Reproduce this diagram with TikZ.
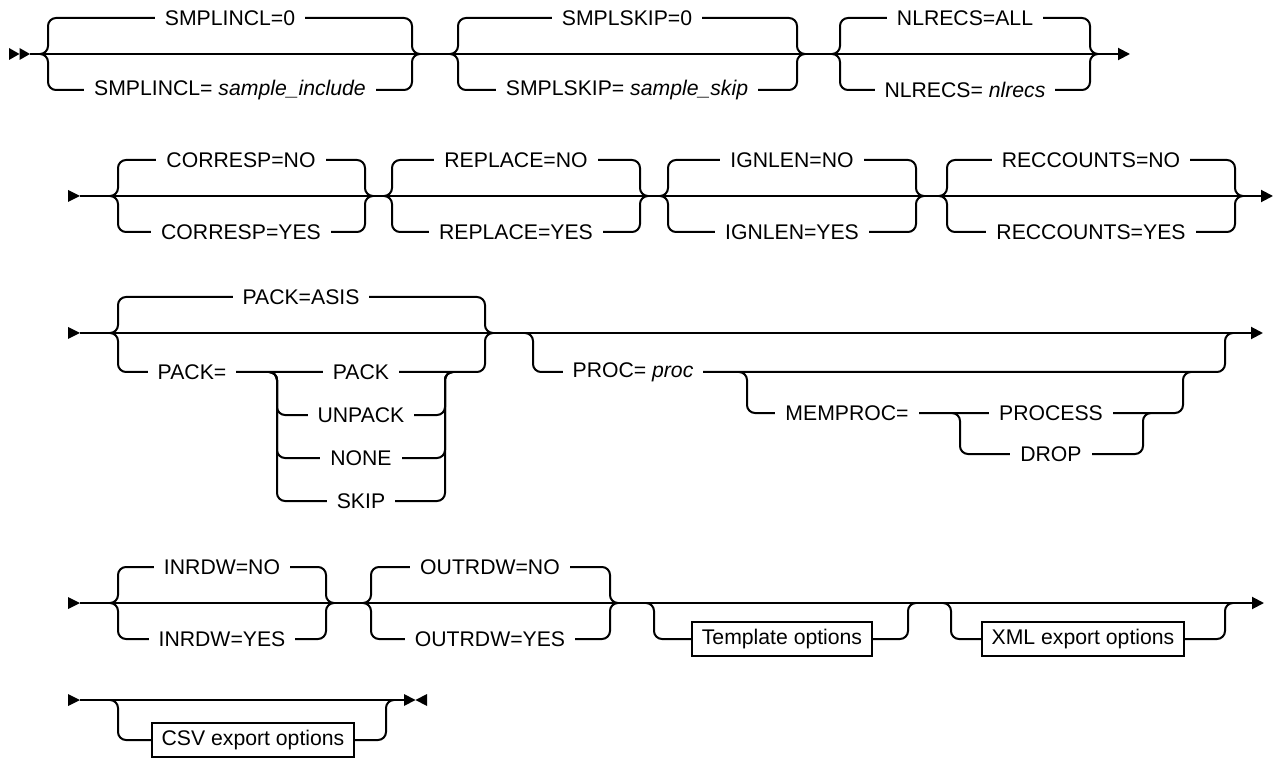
\documentclass[tikz,border=0pt]{standalone}
\usepackage{fontspec}
\setmainfont{Liberation Sans}
\usetikzlibrary{arrows.meta}

\begin{document}
\begin{tikzpicture}[x=0.5pt, y=-0.5pt, font=\fontsize{10.6pt}{12pt}\selectfont,
  rail/.style={line width=1pt, rounded corners=4pt},
  goon/.style={line width=1pt, -{Triangle[length=6pt, width=6pt]}},
  kw/.style={fill=white, inner xsep=5pt, inner ysep=1pt},
  ref/.style={draw, line width=1pt, fill=white, inner xsep=5pt, minimum height=16pt}]
\useasboundingbox (0,0) rectangle (1275,759);
% row 1
\coordinate (in1) at (30,54);
\coordinate (out1) at (1130,54);
\fill (9,48) -- (19.5,54) -- (9,60) -- cycle;
\fill (19.5,48) -- (30,54) -- (19.5,60) -- cycle;
\draw[goon] (in1) -- (out1);
\draw[rail] (40,54) -- (48,54) -- (48,18) -- (412,18) -- (412,54) -- (420,54);
\draw[rail] (40,54) -- (48,54) -- (48,90) -- (412,90) -- (412,54) -- (420,54);
\draw[rail] (450,54) -- (458,54) -- (458,18) -- (797,18) -- (797,54) -- (805,54);
\draw[rail] (450,54) -- (458,54) -- (458,90) -- (797,90) -- (797,54) -- (805,54);
\draw[rail] (832,54) -- (840,54) -- (840,18) -- (1090,18) -- (1090,54) -- (1098,54);
\draw[rail] (832,54) -- (840,54) -- (840,90) -- (1090,90) -- (1090,54) -- (1098,54);
\node[kw] (inclDef) at (230,18) {SMPLINCL=0};
\node[kw] (inclVal) at (230,90) {SMPLINCL= \textit{sample\_include}};
\node[kw] (skipDef) at (627,18) {SMPLSKIP=0};
\node[kw] (skipVal) at (627,90) {SMPLSKIP= \textit{sample\_skip}};
\node[kw] (nlrDef) at (965,18) {NLRECS=ALL};
\node[kw] (nlrVal) at (965,90) {NLRECS= \textit{nlrecs}};
% row 2
\coordinate (in2) at (80,196);
\coordinate (out2) at (1273,196);
\fill (68,190) -- (80,196) -- (68,202) -- cycle;
\draw[goon] (in2) -- (out2);
\draw[rail] (110,196) -- (118,196) -- (118,160) -- (365,160) -- (365,196) -- (373,196);
\draw[rail] (110,196) -- (118,196) -- (118,232) -- (365,232) -- (365,196) -- (373,196);
\draw[rail] (384,196) -- (392,196) -- (392,160) -- (640,160) -- (640,196) -- (648,196);
\draw[rail] (384,196) -- (392,196) -- (392,232) -- (640,232) -- (640,196) -- (648,196);
\draw[rail] (660,196) -- (668,196) -- (668,160) -- (916,160) -- (916,196) -- (924,196);
\draw[rail] (660,196) -- (668,196) -- (668,232) -- (916,232) -- (916,196) -- (924,196);
\draw[rail] (939,196) -- (947,196) -- (947,160) -- (1235,160) -- (1235,196) -- (1243,196);
\draw[rail] (939,196) -- (947,196) -- (947,232) -- (1235,232) -- (1235,196) -- (1243,196);
\node[kw] (corNo) at (241,160) {CORRESP=NO};
\node[kw] (corYes) at (241,232) {CORRESP=YES};
\node[kw] (repNo) at (516,160) {REPLACE=NO};
\node[kw] (repYes) at (516,232) {REPLACE=YES};
\node[kw] (ignNo) at (792,160) {IGNLEN=NO};
\node[kw] (ignYes) at (792,232) {IGNLEN=YES};
\node[kw] (recNo) at (1091,160) {RECCOUNTS=NO};
\node[kw] (recYes) at (1091,232) {RECCOUNTS=YES};
% row 3
\coordinate (in3) at (80,333);
\coordinate (out3) at (1263,333);
\fill (68,327) -- (80,333) -- (68,339) -- cycle;
\draw[goon] (in3) -- (out3);
\draw[rail] (110,333) -- (118,333) -- (118,297) -- (485,297) -- (485,333) -- (493,333);
\draw[rail] (110,333) -- (118,333) -- (118,372) -- (485,372) -- (485,333) -- (493,333);
\draw[rail] (269,372) -- (277,372) -- (277,415) -- (445,415) -- (445,372) -- (453,372);
\draw[rail] (269,372) -- (277,372) -- (277,458) -- (445,458) -- (445,372) -- (453,372);
\draw[rail] (269,372) -- (277,372) -- (277,501) -- (445,501) -- (445,372) -- (453,372);
\draw[rail] (525,333) -- (533,333) -- (533,372) -- (1225,372) -- (1225,333) -- (1233,333);
\draw[rail] (739,372) -- (747,372) -- (747,413) -- (1183,413) -- (1183,372) -- (1191,372);
\draw[rail] (952,413) -- (960,413) -- (960,454) -- (1143,454) -- (1143,413) -- (1151,413);
\node[kw] (packDef) at (301,297) {PACK=ASIS};
\node[kw] (packKey) at (192,372) {PACK=};
\node[kw] (packPack) at (361,372) {PACK};
\node[kw] (packUnp) at (361,415) {UNPACK};
\node[kw] (packNone) at (361,458) {NONE};
\node[kw] (packSkip) at (361,501) {SKIP};
\node[kw] (proc) at (633,372) {PROC= \textit{proc}};
\node[kw] (memKey) at (847,413) {MEMPROC=};
\node[kw] (memProc) at (1051,413) {PROCESS};
\node[kw] (memDrop) at (1051,454) {DROP};
% row 4
\coordinate (in4) at (80,603);
\coordinate (out4) at (1264,603);
\fill (68,597) -- (80,603) -- (68,609) -- cycle;
\draw[goon] (in4) -- (out4);
\draw[rail] (110,603) -- (118,603) -- (118,567) -- (326,567) -- (326,603) -- (334,603);
\draw[rail] (110,603) -- (118,603) -- (118,639) -- (326,639) -- (326,603) -- (334,603);
\draw[rail] (363,603) -- (371,603) -- (371,567) -- (610,567) -- (610,603) -- (618,603);
\draw[rail] (363,603) -- (371,603) -- (371,639) -- (610,639) -- (610,603) -- (618,603);
\draw[rail] (646,603) -- (654,603) -- (654,639) -- (908,639) -- (908,603) -- (916,603);
\draw[rail] (943,603) -- (951,603) -- (951,639) -- (1225,639) -- (1225,603) -- (1233,603);
\node[kw] (inNo) at (222,567) {INRDW=NO};
\node[kw] (inYes) at (222,639) {INRDW=YES};
\node[kw] (outNo) at (490,567) {OUTRDW=NO};
\node[kw] (outYes) at (490,639) {OUTRDW=YES};
\node[ref] (tmpl) at (782,639) {Template options};
\node[ref] (xml) at (1083,639) {XML export options};
% row 5
\coordinate (in5) at (80,700);
\coordinate (end5) at (404,700);
\fill (68,694) -- (80,700) -- (68,706) -- cycle;
\draw[line width=1pt] (in5) -- (end5);
\fill (404,694) -- (415.5,700) -- (404,706) -- cycle;
\fill (427,694) -- (415.5,700) -- (427,706) -- cycle;
\draw[rail] (110,700) -- (118,700) -- (118,740) -- (386,740) -- (386,700) -- (394,700);
\node[ref] (csv) at (253,740) {CSV export options};
\end{tikzpicture}
\end{document}
